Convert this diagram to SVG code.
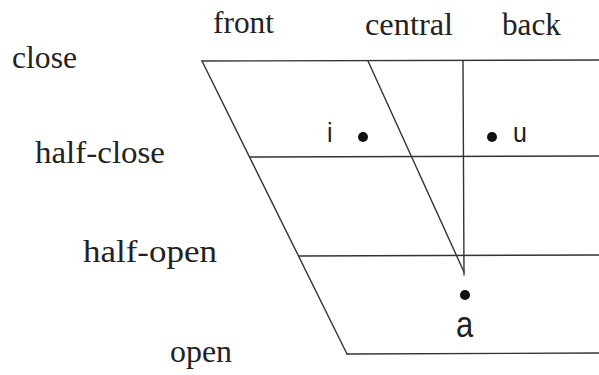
<svg xmlns="http://www.w3.org/2000/svg" width="599" height="375" viewBox="0 0 599 375">
<style>
.lbl{font-family:"Liberation Serif","Times New Roman",serif;font-size:31px;fill:#222}
.snd{font-family:"Liberation Sans",Arial,sans-serif;fill:#222}
.ln{stroke:#333;stroke-width:1.4;fill:none;stroke-linecap:round}
.dot{fill:#111}
</style>
<rect width="599" height="375" fill="#fff"/>
<g id="connectors">
<line class="ln" x1="202" y1="61" x2="599" y2="60"/>
<line class="ln" x1="202" y1="61" x2="347" y2="354"/>
<line class="ln" x1="347" y1="354" x2="599" y2="353"/>
<line class="ln" x1="250" y1="157" x2="599" y2="156"/>
<line class="ln" x1="299" y1="256" x2="599" y2="255"/>
<line class="ln" x1="463" y1="61" x2="464" y2="275"/>
<line class="ln" x1="368" y1="61" x2="464" y2="272"/>
</g>
<g id="front"><text class="lbl" x="213" y="33" textLength="61" lengthAdjust="spacingAndGlyphs">front</text></g>
<g id="central"><text class="lbl" x="365" y="35" textLength="88" lengthAdjust="spacingAndGlyphs">central</text></g>
<g id="back"><text class="lbl" x="502" y="35" textLength="59" lengthAdjust="spacingAndGlyphs">back</text></g>
<g id="close"><text class="lbl" x="12" y="68" textLength="65" lengthAdjust="spacingAndGlyphs">close</text></g>
<g id="half-close"><text class="lbl" x="35" y="163" textLength="130" lengthAdjust="spacingAndGlyphs">half-close</text></g>
<g id="half-open"><text class="lbl" x="83" y="262" textLength="134" lengthAdjust="spacingAndGlyphs">half-open</text></g>
<g id="open"><text class="lbl" x="170" y="362" textLength="62" lengthAdjust="spacingAndGlyphs">open</text></g>
<g id="vowel-i"><text class="snd" x="327" y="142" font-size="25" transform="translate(0,142) scale(1,1.1) translate(0,-142)">i</text><circle class="dot" cx="363" cy="137" r="5"/></g>
<g id="vowel-u"><circle class="dot" cx="492" cy="137" r="5"/><text class="snd" x="513" y="142" font-size="25" transform="translate(0,142) scale(1,1.1) translate(0,-142)">u</text></g>
<g id="vowel-a"><circle class="dot" cx="465" cy="295" r="5"/><text class="snd" x="456" y="337" font-size="31" transform="translate(0,337) scale(1,1.2) translate(0,-337)">a</text></g>
</svg>
